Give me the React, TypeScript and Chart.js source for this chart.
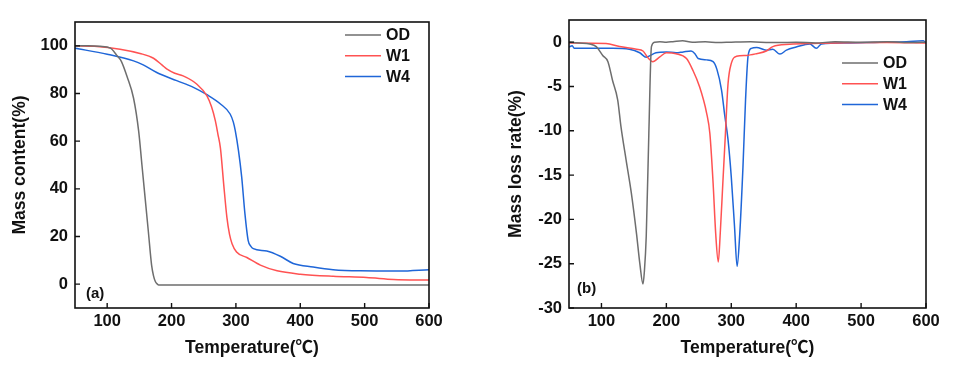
import React, { useEffect, useRef } from "react";
import { Chart, registerables } from "chart.js";

Chart.register(...registerables);

// ---------- Data ----------
const xTicks = [100, 200, 300, 400, 500, 600];
const tgaYTicks = [0, 20, 40, 60, 80, 100];
const dtgYTicks = [-30, -25, -20, -15, -10, -5, 0];
const seriesNames = ["OD", "W1", "W4"];

// (a) TGA: mass content (%)
const tgaOdT = [50, 70, 89, 105, 115, 122, 131, 141, 149, 154, 159, 164, 169, 172, 175, 178, 180, 200, 300, 400, 500, 600];
const tgaOdM = [100, 100, 99.8, 99, 96, 93.5, 87, 78, 64, 50, 36, 22, 8, 3.5, 1, 0, -0.3, -0.3, -0.3, -0.3, -0.3, -0.4];

const tgaW1T = [50, 80, 120, 151, 172, 185, 193, 205, 218, 239, 255, 262, 268, 272, 276, 281, 286, 290, 294, 301, 317, 338, 364, 400, 451, 503, 545, 600];
const tgaW1M = [100, 99.8, 98.6, 96.8, 94.8, 92, 90.2, 88.5, 87.4, 84, 79, 74.5, 68.6, 63, 57, 42, 28, 21, 17, 13.5, 11.2, 8, 5.6, 4.2, 3.3, 2.8, 2, 1.7];

const tgaW4T = [50, 100, 141, 156, 177, 208, 234, 255, 276, 291, 296, 299, 304, 309, 314, 319, 323, 327, 348, 369, 389, 420, 451, 493, 554, 600];
const tgaW4M = [99, 96.5, 93.7, 92, 88.8, 85.4, 82.6, 79.5, 75.6, 71.4, 68, 64.4, 56, 44.9, 29.6, 18.4, 16, 14.9, 13.9, 11.7, 8.7, 7.2, 6.1, 5.6, 5.5, 6.1];

// (b) DTG: mass loss rate (%)
const dtgOdT = [50, 66, 82, 92, 102, 110, 117, 125, 130, 138, 146, 154, 159, 164, 166, 169, 173, 177, 182, 190, 200, 210, 225, 240, 260, 280, 300, 330, 360, 400, 430, 460, 500, 540, 580, 600];
const dtgOdR = [0, -0.1, -0.2, -0.5, -1.5, -2.2, -4.3, -6.5, -9.5, -13.3, -17, -21.6, -24.9, -27.3, -26, -21.9, -10.3, -0.5, 0, 0.05, 0, 0.05, 0.15, 0, 0.05, -0.05, 0, 0.05, -0.05, 0, -0.1, 0.05, 0, 0.05, -0.05, 0];

const dtgW1T = [50, 107, 128, 154, 164, 172, 179, 190, 200, 215, 231, 241, 251, 262, 267, 272, 276, 280, 283, 287, 291, 295, 300, 308, 323, 339, 354, 364, 390, 426, 478, 540, 600];
const dtgW1R = [-0.1, -0.15, -0.5, -0.8, -1.0, -1.8, -2.2, -1.65, -1.2, -1.3, -1.85, -3.2, -5.0, -8, -10.3, -15.9, -21.6, -24.8, -21.6, -15.9, -10.3, -4.7, -2.4, -1.6, -1.5, -1.3, -1.0, -0.5, -0.25, -0.15, -0.08, -0.05, -0.1];

const dtgW4T = [50, 55, 58, 70, 117, 143, 159, 169, 174, 184, 200, 215, 226, 238, 244, 249, 262, 272, 278, 285, 290, 295, 300, 305, 309, 313, 318, 322, 326, 331, 339, 354, 364, 375, 385, 400, 421, 431, 439, 478, 529, 570, 596, 600];
const dtgW4R = [-0.55, -0.4, -0.7, -0.7, -0.7, -0.8, -1.2, -1.7, -1.55, -1.2, -1.1, -1.2, -1.1, -1.0, -1.3, -1.85, -2.0, -2.2, -3.1, -5.4, -8.3, -11, -15.2, -20.8, -25.3, -21.7, -14.1, -6.5, -1.5, -0.7, -0.6, -0.9, -0.8, -1.35, -0.9, -0.55, -0.2, -0.7, -0.2, -0.1, 0, 0.05, 0.15, -0.1];

// ---------- Styling ----------
const COLORS = ["#6e6e6e", "#ff5252", "#1f66d8"];
const FONT = "'Liberation Sans', Arial, 'Noto Sans CJK SC', sans-serif";

const zip = (xs: number[], ys: number[]) => xs.map((x, i) => ({ x, y: ys[i] }));

const framePlugin = {
  id: "frame",
  afterDatasetsDraw(chart: any, _args: any, opts: any) {
    const { ctx, chartArea, scales } = chart;
    const { left, right, top, bottom } = chartArea;
    ctx.save();
    ctx.strokeStyle = "#111";
    ctx.lineWidth = 1.6;
    ctx.strokeRect(left, top, right - left, bottom - top);
    ctx.lineWidth = 1.4;
    ctx.beginPath();
    scales.x.ticks.forEach((t: any) => {
      const px = scales.x.getPixelForValue(t.value);
      ctx.moveTo(px, bottom);
      ctx.lineTo(px, bottom - 5);
    });
    scales.y.ticks.forEach((t: any) => {
      const py = scales.y.getPixelForValue(t.value);
      ctx.moveTo(left, py);
      ctx.lineTo(left + 5, py);
    });
    ctx.stroke();

    // legend
    ctx.font = `bold 16px ${FONT}`;
    ctx.textBaseline = "middle";
    ctx.textAlign = "left";
    chart.data.datasets.forEach((ds: any, i: number) => {
      const y = opts.legendY + i * opts.legendDy;
      ctx.strokeStyle = ds.borderColor;
      ctx.lineWidth = 1.5;
      ctx.beginPath();
      ctx.moveTo(opts.legendX0, y);
      ctx.lineTo(opts.legendX1, y);
      ctx.stroke();
      ctx.fillStyle = "#111";
      ctx.fillText(ds.label, opts.legendTextX, y + 1);
    });

    // panel label
    ctx.font = `bold 15px ${FONT}`;
    ctx.fillText(opts.label, opts.labelX, opts.labelY);
    ctx.restore();
  },
};

function makeConfig(p: {
  datasets: { label: string; data: { x: number; y: number }[] }[];
  yMin: number;
  yMax: number;
  yTicks: number[];
  yTitle: string;
  yWidth: number;
  yTitlePad: number;
  padTop: number;
  padRight: number;
  frame: any;
}): any {
  return {
    type: "line",
    data: {
      datasets: p.datasets.map((d, i) => ({
        label: d.label,
        data: d.data,
        borderColor: COLORS[i],
        backgroundColor: COLORS[i],
        borderWidth: 1.5,
        pointRadius: 0,
        fill: false,
        cubicInterpolationMode: "monotone",
      })),
    },
    options: {
      animation: false,
      responsive: false,
      layout: { padding: { top: p.padTop, right: p.padRight, left: 0, bottom: 0 } },
      plugins: {
        legend: { display: false },
        tooltip: { enabled: false },
        frame: p.frame,
      },
      scales: {
        x: {
          type: "linear",
          min: 50,
          max: 600,
          grid: { display: false, drawTicks: false },
          border: { display: false },
          afterBuildTicks: (s: any) => {
            s.ticks = xTicks.map((v) => ({ value: v }));
          },
          afterFit: (s: any) => {
            s.height = 62;
          },
          ticks: {
            padding: 4,
            color: "#111",
            font: { family: FONT, size: 16.5, weight: "bold" },
            maxRotation: 0,
          },
          title: {
            display: true,
            text: "Temperature(℃)",
            color: "#111",
            font: { family: FONT, size: 17.5, weight: "bold", lineHeight: 1.2 },
            padding: { top: 0, bottom: 11.5 },
          },
        },
        y: {
          type: "linear",
          min: p.yMin,
          max: p.yMax,
          grid: { display: false, drawTicks: false },
          border: { display: false },
          afterBuildTicks: (s: any) => {
            s.ticks = p.yTicks.map((v) => ({ value: v }));
          },
          afterFit: (s: any) => {
            s.width = p.yWidth;
          },
          ticks: {
            padding: 7,
            color: "#111",
            font: { family: FONT, size: 16.5, weight: "bold" },
          },
          title: {
            display: true,
            text: p.yTitle,
            color: "#111",
            font: { family: FONT, size: 17.5, weight: "bold", lineHeight: 1.2 },
            padding: { top: p.yTitlePad, bottom: 0 },
          },
        },
      },
    },
    plugins: [framePlugin],
  };
}

function ChartCanvas({ config, width, height }: { config: any; width: number; height: number }) {
  const ref = useRef<HTMLCanvasElement | null>(null);
  useEffect(() => {
    if (!ref.current) return;
    const chart = new Chart(ref.current, config);
    return () => chart.destroy();
  }, [config]);
  return <canvas ref={ref} width={width} height={height} style={{ display: "block", width, height }} />;
}

const leftConfig = makeConfig({
  datasets: [
    { label: seriesNames[0], data: zip(tgaOdT, tgaOdM) },
    { label: seriesNames[1], data: zip(tgaW1T, tgaW1M) },
    { label: seriesNames[2], data: zip(tgaW4T, tgaW4M) },
  ],
  yMin: -10,
  yMax: 110,
  yTicks: tgaYTicks,
  yTitle: "Mass content(%)",
  yWidth: 75,
  yTitlePad: 9.5,
  padTop: 22,
  padRight: 51,
  frame: { legendX0: 345, legendX1: 381, legendTextX: 386, legendY: 35, legendDy: 20.8, label: "(a)", labelX: 86, labelY: 294 },
});

const rightConfig = makeConfig({
  datasets: [
    { label: seriesNames[0], data: zip(dtgOdT, dtgOdR) },
    { label: seriesNames[1], data: zip(dtgW1T, dtgW1R) },
    { label: seriesNames[2], data: zip(dtgW4T, dtgW4R) },
  ],
  yMin: -30,
  yMax: 2.5,
  yTicks: dtgYTicks,
  yTitle: "Mass loss rate(%)",
  yWidth: 89,
  yTitlePad: 26,
  padTop: 20,
  padRight: 29,
  frame: { legendX0: 362, legendX1: 398, legendTextX: 403, legendY: 63, legendDy: 20.7, label: "(b)", labelX: 97, labelY: 289 },
});

export default function App() {
  return (
    <div style={{ position: "absolute", left: 0, top: 0, width: 955, height: 370, background: "#fff" }}>
      <div style={{ position: "absolute", left: 0, top: 0 }}>
        <ChartCanvas config={leftConfig} width={480} height={370} />
      </div>
      <div style={{ position: "absolute", left: 480, top: 0 }}>
        <ChartCanvas config={rightConfig} width={475} height={370} />
      </div>
    </div>
  );
}
